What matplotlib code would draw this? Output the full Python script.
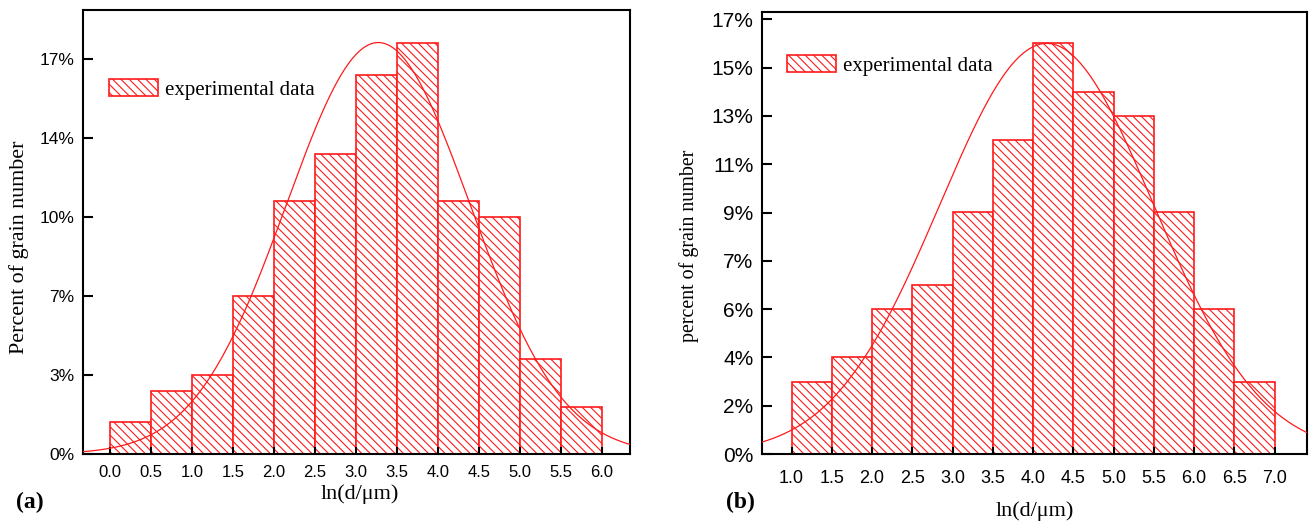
import numpy as np
import matplotlib
matplotlib.use("Agg")
from matplotlib import pyplot as plt

# ---- data, panel (a) ----
left_a = [0.0, 0.5, 1.0, 1.5, 2.0, 2.5, 3.0, 3.5, 4.0, 4.5, 5.0, 5.5]
pct_a = [1.36, 2.72, 3.40, 6.80, 10.88, 12.92, 16.32, 17.68, 10.88, 10.20, 4.08, 2.04]
xticks_a = [0.0, 0.5, 1.0, 1.5, 2.0, 2.5, 3.0, 3.5, 4.0, 4.5, 5.0, 5.5, 6.0]
yticks_a = [0, 3.4, 6.8, 10.2, 13.6, 17.0]
ylabels_a = ["0%", "3%", "7%", "10%", "14%", "17%"]
fit_a = (3.27, 1.12, 17.7)  # centre, width, height of the fitted curve

# ---- data, panel (b) ----
left_b = [1.0, 1.5, 2.0, 2.5, 3.0, 3.5, 4.0, 4.5, 5.0, 5.5, 6.0, 6.5]
pct_b = [2.81, 3.75, 5.63, 6.56, 9.38, 12.19, 15.94, 14.06, 13.13, 9.38, 5.63, 2.81]
xticks_b = [1.0, 1.5, 2.0, 2.5, 3.0, 3.5, 4.0, 4.5, 5.0, 5.5, 6.0, 6.5, 7.0]
yticks_b = [0, 1.875, 3.75, 5.625, 7.5, 9.375, 11.25, 13.125, 15.0, 16.875]
ylabels_b = ["0%", "2%", "4%", "6%", "7%", "9%", "11%", "13%", "15%", "17%"]
fit_b = (4.17, 1.33, 15.94)

RED = "#ff1a1a"
plt.rcParams["hatch.linewidth"] = 0.8
plt.rcParams["hatch.color"] = RED

fig = plt.figure(figsize=(13.1, 5.23), dpi=100)


def draw_panel(ax, left, pct, xticks, yticks, ylabels, fit, xlim, ylim,
               xfs, yfs, xpad, leg_xy):
    ax.bar(left, pct, width=0.5, align="edge", facecolor="white",
           edgecolor=RED, linewidth=1.2, hatch="\\\\\\\\",
           label="experimental data", zorder=1)
    mu, s, h = fit
    _x = np.linspace(xlim[0], xlim[1], 300)
    ax.plot(_x, h * np.exp(-(_x - mu) ** 2 / (2 * s ** 2)), color=RED,
            linewidth=0.9, zorder=3)
    ax.set_xlim(*xlim)
    ax.set_ylim(*ylim)
    ax.set_xticks(xticks)
    ax.set_xticklabels(["%.1f" % t for t in xticks], family="Liberation Sans",
                       fontsize=xfs)
    ax.set_yticks(yticks)
    ax.set_yticklabels(ylabels, family="Liberation Sans", fontsize=yfs)
    ax.tick_params(axis="x", direction="in", length=5, width=1.5, pad=xpad)
    ax.tick_params(axis="y", direction="in", length=7, width=1.5, pad=6)
    for sp in ax.spines.values():
        sp.set_linewidth(1.5)
    ax.legend(loc="center left", bbox_to_anchor=leg_xy, frameon=False,
              prop={"family": "Liberation Serif", "size": 15},
              handlelength=2.35, handleheight=0.85, handletextpad=0.35,
              borderpad=0, borderaxespad=0)


ax1 = fig.add_axes([0.0634, 0.1319, 0.4175, 0.849])
draw_panel(ax1, left_a, pct_a, xticks_a, yticks_a, ylabels_a, fit_a,
           (-0.33, 6.34), (0, 19.1), 12, 12.5, 8, (0.047, 0.821))

ax2 = fig.add_axes([0.5815, 0.1319, 0.416, 0.8457])
draw_panel(ax2, left_b, pct_b, xticks_b, yticks_b, ylabels_b, fit_b,
           (0.63, 7.40), (0, 17.17), 13, 15, 11.5, (0.046, 0.878))

# axis titles and panel letters
fig.text(19 / 1310, 1 - 247 / 523, "Percent of grain number", rotation=90,
         ha="center", va="center", family="Liberation Serif", fontsize=15.8)
fig.text(689 / 1310, 1 - 246 / 523, "percent of grain number", rotation=90,
         ha="center", va="center", family="Liberation Serif", fontsize=14.4)
fig.text(360 / 1310, 1 - 494 / 523, "ln(d/\u03bcm)", ha="center", va="center",
         family="Liberation Serif", fontsize=16)
fig.text(1035 / 1310, 1 - 511 / 523, "ln(d/\u03bcm)", ha="center", va="center",
         family="Liberation Serif", fontsize=16)
fig.text(30 / 1310, 1 - 502 / 523, "(a)", ha="center", va="center",
         family="Liberation Serif", fontweight="bold", fontsize=17)
fig.text(740 / 1310, 1 - 502 / 523, "(b)", ha="center", va="center",
         family="Liberation Serif", fontweight="bold", fontsize=17)

fig.savefig("out.png", dpi=100)
